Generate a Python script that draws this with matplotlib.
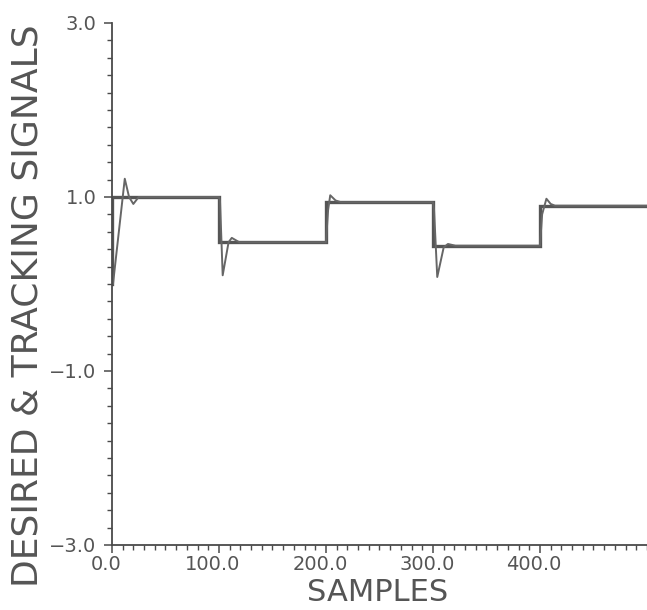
import numpy as np
import matplotlib
matplotlib.use("Agg")
import matplotlib.pyplot as plt
from matplotlib.ticker import MultipleLocator, FixedLocator
from matplotlib.transforms import ScaledTranslation

# Desired signal (square wave, step levels)
desired_x = [0, 0, 100, 100, 200, 200, 300, 300, 400, 400, 500]
desired_y = [0.0, 1.0, 1.0, 0.48, 0.48, 0.94, 0.94, 0.44, 0.44, 0.90, 0.90]

# Tracking signal (plant output)
track_x = [0, 1, 12, 16, 20, 25, 100, 101, 103.5, 109, 112, 119,
           200, 202, 204, 209, 214, 300, 301, 304, 310, 314, 321,
           400, 402, 406, 410, 414, 500]
track_y = [0.0, 0.0, 1.21, 1.0, 0.92, 1.0, 1.0, 0.95, 0.10, 0.48, 0.53, 0.48,
           0.48, 0.85, 1.02, 0.96, 0.94, 0.94, 0.85, 0.08, 0.42, 0.46, 0.44,
           0.44, 0.80, 0.98, 0.92, 0.90, 0.90]

x_major = [0, 100, 200, 300, 400]
x_labels = ["0.0", "100.0", "200.0", "300.0", "400.0"]
y_major = [-3, -1, 1, 3]
y_labels = ["\u22123.0", "\u22121.0", "1.0", "3.0"]

ink = "#4a4a4a"
txt = "#555555"
fig = plt.figure(figsize=(6.47, 6.10), dpi=100)
ax = fig.add_axes([0.173, 0.1066, 0.827, 0.8557])

ax.plot(desired_x, desired_y, color="#555555", lw=2.4, solid_joinstyle="miter")
ax.plot(track_x, track_y, color="#666666", lw=1.4)

ax.set_xlim(0, 500)
ax.set_ylim(-3, 3)

for s in ["top", "right"]:
    ax.spines[s].set_visible(False)
for s in ["left", "bottom"]:
    ax.spines[s].set_color(ink)
    ax.spines[s].set_linewidth(1.3)

ax.xaxis.set_major_locator(FixedLocator(x_major))
ax.set_xticklabels(x_labels)
ax.xaxis.set_minor_locator(MultipleLocator(10))
ax.yaxis.set_major_locator(FixedLocator(y_major))
ax.set_yticklabels(y_labels)
ax.yaxis.set_minor_locator(MultipleLocator(0.2))

ax.tick_params(which="major", direction="out", length=6, width=1.1, color=ink,
               labelsize=14, labelcolor=txt)
ax.tick_params(which="minor", direction="out", length=3.5, width=1.0, color=ink)
ax.tick_params(axis="x", which="major", pad=1)
ax.tick_params(axis="y", which="major", pad=5)

shift = ScaledTranslation(-6 / 100, 0, fig.dpi_scale_trans)
for lab in ax.get_xticklabels():
    lab.set_transform(lab.get_transform() + shift)

ax.set_xlabel("SAMPLES", fontsize=22, color=txt, va="baseline")
ax.xaxis.set_label_coords(0.497, -0.1073)
ax.set_ylabel("DESIRED & TRACKING SIGNALS", fontsize=26, color=txt, va="center")
ax.yaxis.set_label_coords(-0.157, 0.458)

fig.savefig("out.png", dpi=100)
